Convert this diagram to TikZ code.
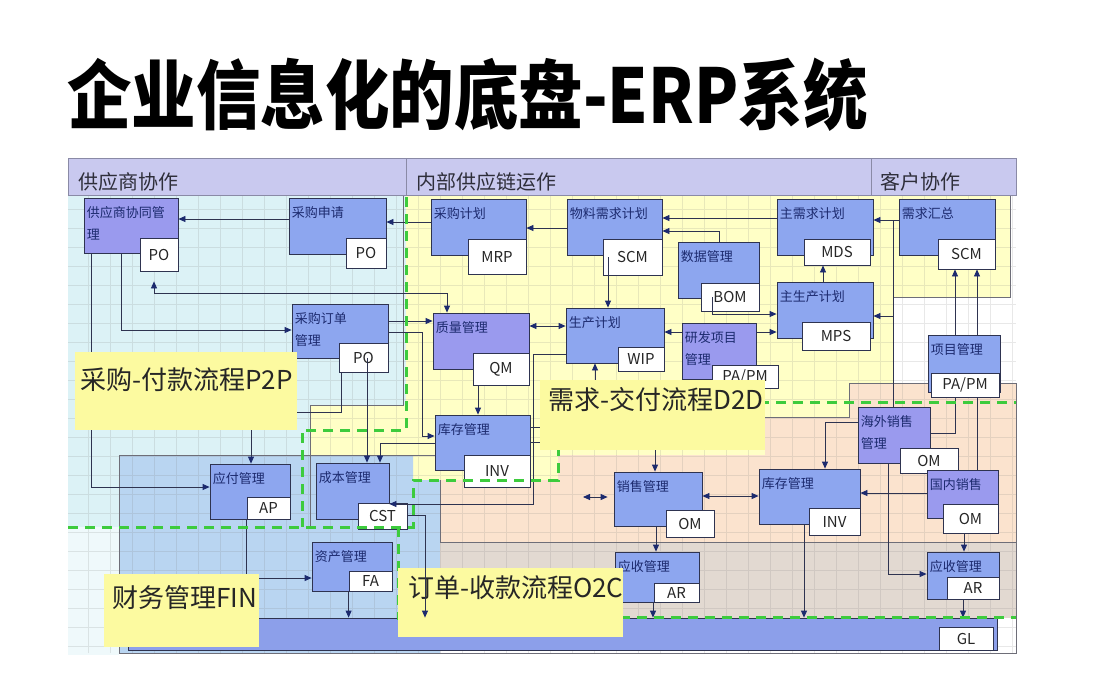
\documentclass[tikz,border=0pt]{standalone}
\usepackage{fontspec}
\setmainfont{Noto Sans CJK SC}
\usetikzlibrary{arrows.meta,fit}
\definecolor{hdr}{HTML}{C9C9EF}
\definecolor{hdrline}{HTML}{8A8AA6}
\definecolor{hdrtx}{HTML}{2E2E3A}
\definecolor{bblue}{HTML}{8DA6EF}
\definecolor{bpurp}{HTML}{9A9AEE}
\definecolor{navy}{HTML}{1C2A6E}
\definecolor{lncol}{HTML}{2E3350}
\definecolor{cyanbg}{HTML}{DCF2F6}
\definecolor{yelbg}{HTML}{FFFFC6}
\definecolor{peach}{HTML}{FBE3CE}
\definecolor{beige}{HTML}{E2D9D1}
\definecolor{finbg}{HTML}{B9D5F1}
\definecolor{glbar}{HTML}{8C9FEA}
\definecolor{lbl}{HTML}{FCFAA0}
\definecolor{grn}{HTML}{3DCB3D}
\definecolor{regline}{HTML}{6E6E78}
\pgfdeclarelayer{bg}
\pgfdeclarelayer{behind}
\pgfsetlayers{bg,behind,main}
\tikzset{
  modbox/.style={draw=lncol,line width=0.8pt,fill=bblue,inner sep=0pt},
  modpurp/.style={modbox,fill=bpurp},
  glbox/.style={modbox,fill=glbar},
  codebox/.style={draw=lncol,line width=0.8pt,fill=white,inner sep=0pt},
  modtext/.style={font=\fontsize{13}{22}\selectfont,text=navy,anchor=north west,inner sep=0pt,align=left},
  codetext/.style={font=\fontsize{15}{16}\selectfont,text=black!85,inner sep=0pt},
  arr/.style={draw=lncol,line width=0.8pt,-{Triangle[length=7pt,width=6pt,color=navy]}},
  dbl/.style={draw=lncol,line width=0.8pt,{Triangle[length=7pt,width=6pt,color=navy]}-{Triangle[length=7pt,width=6pt,color=navy]}},
  ln/.style={draw=lncol,line width=0.8pt},
  regl/.style={draw=regline,line width=0.7pt},
  grline/.style={draw=grn,line width=3pt,dash pattern=on 10pt off 7pt},
  hdrbox/.style={fill=hdr,draw=hdrline,line width=0.8pt,inner sep=0pt},
  hdrtext/.style={font=\fontsize{20}{22}\selectfont,text=hdrtx,anchor=west,inner sep=0pt},
  lblbox/.style={fill=lbl,inner sep=0pt},
  lbltext/.style={font=\fontsize{26}{28}\selectfont,text=black!85,anchor=west,inner sep=0pt},
}
\newcommand\modul[8]{%
  \node[#1,fit={#3 #4}] (#2) {};
  \node[modtext] (#2t) at ([xshift=3pt,yshift=-9pt]#2.north west) {#5};
  \node[codebox,fit={#6 #7}] (#2c) {};
  \node[codetext] (#2ct) at (#2c.center) {#8};
}
\begin{document}
\begin{tikzpicture}[x=1pt,y=-1pt]
\useasboundingbox (0,0) rectangle (1110,681);
\begin{pgfonlayer}{bg}
\fill[white] (0,0) rectangle (1110,681);
\fill[cyanbg] (68,195) rectangle (406,527);
\fill[cyanbg!45] (68,527) rectangle (119,655);
\fill[yelbg] (406,195) -- (1010,195) -- (1010,297) -- (893,297) -- (893,383) -- (849,383) -- (849,417) -- (765,417) -- (765,455) -- (558,455) -- (558,480) -- (413,480) -- (413,455) -- (310,455) -- (310,405) -- (406,405) -- cycle;
\fill[finbg] (119,455) -- (413,455) -- (413,480) -- (440,480) -- (440,653) -- (119,653) -- cycle;
\fill[peach] (440,480) -- (558,480) -- (558,455) -- (765,455) -- (765,417) -- (849,417) -- (849,383) -- (1016,383) -- (1016,542) -- (440,542) -- cycle;
\fill[beige] (440,542) rectangle (1016,618);
\draw[gray,opacity=0.18,line width=0.4pt,xstep=22pt,ystep=19pt] (68,195) grid (1016,653);
\draw[regl] (403,195) -- (403,405) -- (310,405) -- (310,527);
\draw[regl] (1010,195) -- (1010,297) -- (893,297);
\draw[regl] (765,417) -- (849,417) -- (849,383) -- (1016,383) -- (1016,653) -- (119,653) -- (119,455) -- (435,455);
\draw[regl] (440,480) -- (440,542) -- (1016,542);
\end{pgfonlayer}
% headers
\node[hdrbox,fit={(68,158) (406,195)}] (h1) {};
\node[hdrbox,fit={(406,158) (871,195)}] (h2) {};
\node[hdrbox,fit={(871,158) (1016,195)}] (h3) {};
\node[hdrtext] (h1t) at (78,182) {供应商协作};
\node[hdrtext] (h2t) at (416,182) {内部供应链运作};
\node[hdrtext] (h3t) at (880,182) {客户协作};
% modules
\modul{modpurp}{gys}{(84,198)}{(178,253)}{供应商协同管\\理}{(140,238)}{(178,271)}{PO}
\modul{modbox}{cgsq}{(289,198)}{(386,254)}{采购申请}{(346,238)}{(386,268)}{PO}
\modul{modbox}{cgdd}{(292,304)}{(388,358)}{采购订单\\管理}{(339,343)}{(388,372)}{PO}
\modul{modbox}{cgjh}{(431,199)}{(526,255)}{采购计划}{(468,239)}{(526,274)}{MRP}
\modul{modbox}{wlxq}{(567,199)}{(662,255)}{物料需求计划}{(603,239)}{(662,275)}{SCM}
\modul{modbox}{sjgl}{(678,242)}{(759,298)}{数据管理}{(701,283)}{(759,311)}{BOM}
\modul{modbox}{zxq}{(777,199)}{(873,255)}{主需求计划}{(804,239)}{(870,265)}{MDS}
\modul{modbox}{xqhz}{(899,199)}{(995,255)}{需求汇总}{(938,239)}{(995,269)}{SCM}
\modul{modbox}{zsc}{(777,282)}{(873,338)}{主生产计划}{(802,322)}{(870,350)}{MPS}
\modul{modpurp}{zlgl}{(433,313)}{(529,369)}{质量管理}{(473,353)}{(529,385)}{QM}
\modul{modbox}{scjh}{(566,308)}{(664,363)}{生产计划}{(618,347)}{(664,371)}{WIP}
\modul{modpurp}{yfxm}{(682,323)}{(756,379)}{研发项目\\管理}{(712,365)}{(778,388)}{PA/PM}
\modul{modbox}{xmgl}{(928,335)}{(1000,392)}{项目管理}{(931,373)}{(999,397)}{PA/PM}
\modul{modbox}{kc1}{(435,415)}{(530,470)}{库存管理}{(464,455)}{(530,487)}{INV}
\modul{modbox}{yf}{(210,464)}{(290,519)}{应付管理}{(247,497)}{(290,519)}{AP}
\modul{modbox}{cb}{(316,463)}{(389,519)}{成本管理}{(358,503)}{(407,529)}{CST}
\modul{modbox}{zc}{(312,542)}{(392,591)}{资产管理}{(349,571)}{(392,591)}{FA}
\modul{modbox}{xs}{(614,472)}{(702,526)}{销售管理}{(666,510)}{(714,537)}{OM}
\modul{modbox}{ys1}{(615,552)}{(699,602)}{应收管理}{(654,583)}{(699,602)}{AR}
\modul{modbox}{kc2}{(759,469)}{(860,524)}{库存管理}{(809,508)}{(860,535)}{INV}
\modul{modpurp}{hw}{(858,407)}{(930,463)}{海外销售\\管理}{(900,448)}{(958,473)}{OM}
\modul{modpurp}{gn}{(927,470)}{(998,518)}{国内销售}{(943,504)}{(998,533)}{OM}
\modul{modbox}{ys2}{(927,552)}{(999,599)}{应收管理}{(947,577)}{(999,599)}{AR}
\modul{glbox}{gl}{(128,618)}{(997,650)}{}{(939,627)}{(993,650)}{GL}
% connectors passing behind boxes
\begin{pgfonlayer}{behind}
\draw[arr] (hw.east |- 0,433) -| (xqhzc.south -| 955,0);
\draw[arr] (gn.north -| 977,0) -- (xqhzc.south -| 977,0);
\end{pgfonlayer}
% connectors
\draw[arr] (cgsq.west |- 0,219) -- (gys.east |- 0,219);
\draw[arr] (cgjh.west |- 0,222) -- (cgsq.east |- 0,222);
\draw[arr] (wlxq.west |- 0,228) -- (cgjh.east |- 0,228);
\draw[arr] (zxq.west |- 0,218) -- (wlxq.east |- 0,218);
\draw[arr] (sjgl.north -| 719,0) |- (wlxq.east |- 0,231);
\draw[arr] (xqhz.west |- 0,220) -- (zxq.east |- 0,220);
\draw[ln] (hw.north -| 893,0) -- (893,220);
\draw[arr] (893,316) -- (zsc.east |- 0,316);
\draw[arr] (zsc.north -| 823,0) -- (zxqc.south -| 823,0);
\draw[arr] (sjglc.center -| 712,0) |- (zsc.west |- 0,314);
\draw[arr] (yfxm.east |- 0,332) -- (zsc.west |- 0,332);
\draw[arr] (yfxm.west |- 0,332) -- (scjh.east |- 0,332);
\draw[arr] (wlxqc.center -| 608,0) -- (scjh.north -| 608,0);
\draw[dbl] (zlgl.east |- 0,326) -- (scjh.west |- 0,326);
\draw[arr] (kc1.east |- 0,427) -| (scjh.south -| 595,0);
\draw[arr] (scjh.west |- 0,354) -- (533,354) -- (533,504) -- (cb.east |- 0,504);
\draw[arr] (kc1.east |- 0,442) -| (xs.north -| 655,0);
\draw[arr] (zlglc.south -| 478,0) -- (kc1.north -| 478,0);
\draw[arr] (cgdd.east |- 0,321) -- (zlgl.west |- 0,321);
\draw[arr] (cgdd.east |- 0,332) -- (422,332) |- (kc1.west |- 0,436);
\draw[dbl,shorten <=10pt] (gysc.south -| 154,0) |- (447,293) -- (zlgl.north -| 447,0);
\draw[arr] (gys.south -| 121,0) |- (cgdd.west |- 0,330);
\draw[arr] (gys.south -| 91,0) |- (yf.west |- 0,487);
\draw[arr] (cgddc.south -| 341,0) -- (341,412) -| (yf.north -| 251,0);
\draw[arr] (cgddc.center -| 367,0) -- (cb.north -| 367,0);
\draw[arr] (kc1.west |- 0,443) -| (cb.north -| 380,0);
\draw[arr] (zcc.south west) -- (gl.north -| zcc.south west);
\draw[arr] (yfc.south west) |- (zc.west |- 0,578);
\coordinate (xsl) at (583,497);
\draw[dbl,shorten >=6pt] (xsl) -- (xs.west |- 0,497);
\draw[dbl] (xs.east |- 0,496) -- (kc2.west |- 0,496);
\draw[arr] (xs.south -| 656,0) -- (ys1.north -| 656,0);
\draw[arr] (ys1.south -| 653,0) -- (gl.north -| 653,0);
\draw[arr] (hw.west |- 0,422) -| (kc2.north -| 825,0);
\draw[arr] (gn.west |- 0,493) -- (kc2.east |- 0,493);
\draw[arr] (kc2.south -| 804,0) -- (gl.north -| 804,0);
\draw[arr] (hw.south -| 888,0) |- (ys2.west |- 0,574);
\draw[arr] (gnc.south -| 964,0) -- (ys2.north -| 964,0);
\draw[arr] (ys2c.south -| 963,0) -- (gl.north -| 963,0);
% green dashed process boundaries
\draw[grline] (406,197) -- (406,430) -- (302,430) -- (302,527);
\draw[grline] (68,527) -- (413,527) -- (413,480) -- (558,480) -- (558,402) -- (1016,402);
\draw[grline] (398,527) -- (398,620);
\draw[grline] (620,617) -- (1016,617);
% process labels
\node[lblbox,fit={(75,352) (297,430)}] (p2p) {};
\node[lbltext] (p2pt) at (80,380) {采购-付款流程P2P};
\node[lblbox,fit={(540,380) (765,450)}] (d2d) {};
\node[lbltext] (d2dt) at (548,400) {需求-交付流程D2D};
\node[lblbox,fit={(104,574) (259,647)}] (fin) {};
\node[lbltext] (fint) at (112,598) {财务管理FIN};
\node[lblbox,fit={(398,568) (623,637)}] (o2c) {};
\node[lbltext] (o2ct) at (408,588) {订单-收款流程O2C};
\draw[arr] (cbc.east |- 0,515) -- (425,515) -- (gl.north -| 425,0);
% title
\node[anchor=base west,inner sep=0pt] (title) at (67,123) {\scalebox{1}[1.17]{\fontsize{64.5}{70}\selectfont\bfseries 企业信息化的底盘-ERP系统}};
\end{tikzpicture}
\end{document}
